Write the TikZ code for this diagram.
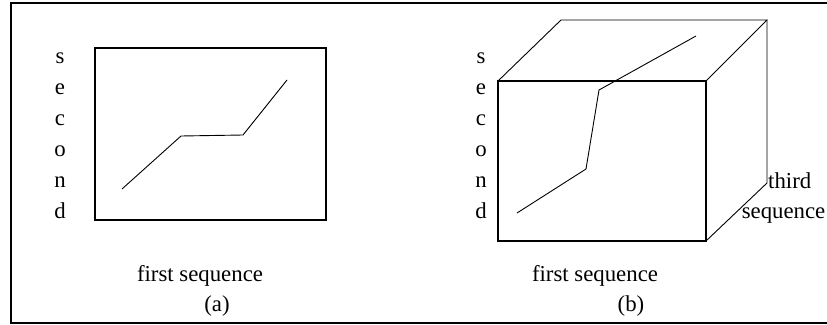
\documentclass[tikz,border=0pt]{standalone}
\usepackage{fontspec}
\setmainfont{Liberation Serif}
\usepackage{tikz}
\usetikzlibrary{positioning, calc}

\begin{document}
\begin{tikzpicture}[x=1pt, y=-1pt,
        every node/.style={inner sep=0pt, anchor=base, font=\fontsize{22.8}{27}\selectfont},
        frame/.style={line width=2pt},
        box/.style={line width=1.8pt},
        curve/.style={line width=0.9pt},
        edge/.style={line width=0.9pt}
      ]
      \useasboundingbox (0,0) rectangle (827,324);
      % outer frame (no right side)
      \draw[frame] (827,3) -- (11,3) -- (11,322.5) -- (827,322.5);

      % (a) plane
      \coordinate (A1) at (95,48);
      \coordinate (A2) at (326,220);
      \draw[box] (A1) rectangle (A2);
      \coordinate (P1) at (122,189);
      \coordinate (P2) at (181,136);
      \coordinate (P3) at (243,135);
      \coordinate (P4) at (287,80);
      \draw[curve] (P1)--(P2)--(P3)--(P4);
      \foreach \ch [count=\i from 0] in {s,e,c,o,n,d}
        \node (sa\i) at (60,63+31*\i) {\ch};
      \node (firsta) at (200,281) {first sequence};
      \node (capa) at (217,311) {(a)};

      % (b) cube
      \coordinate (F1) at (498,81);
      \coordinate (F2) at (706,81);
      \coordinate (F3) at (706,241);
      \coordinate (F4) at (498,241);
      \coordinate (B1) at (561,20);
      \coordinate (B2) at (767,20);
      \coordinate (B3) at (767,183);
      \draw[edge] (F1)--(B1)--(B2)--(F2);
      \draw[edge] (B2)--(B3)--(F3);
      \draw[box] (F1)--(F2)--(F3)--(F4)--cycle;
      \coordinate (Q1) at (517,213);
      \coordinate (Q2) at (586,169);
      \coordinate (Q3) at (599,90);
      \coordinate (Q4) at (696,36);
      \draw[curve] (Q1)--(Q2)--(Q3)--(Q4);
      \foreach \ch [count=\i from 0] in {s,e,c,o,n,d}
        \node (sb\i) at (481,63+31*\i) {\ch};
      \node[anchor=base west] (third) at (768,188) {third};
      \node[anchor=base east] (seqc) at (825.5,218) {sequence};
      \node (firstb) at (595,281) {first sequence};
      \node (capb) at (631,311) {(b)};
    \end{tikzpicture}
\end{document}
